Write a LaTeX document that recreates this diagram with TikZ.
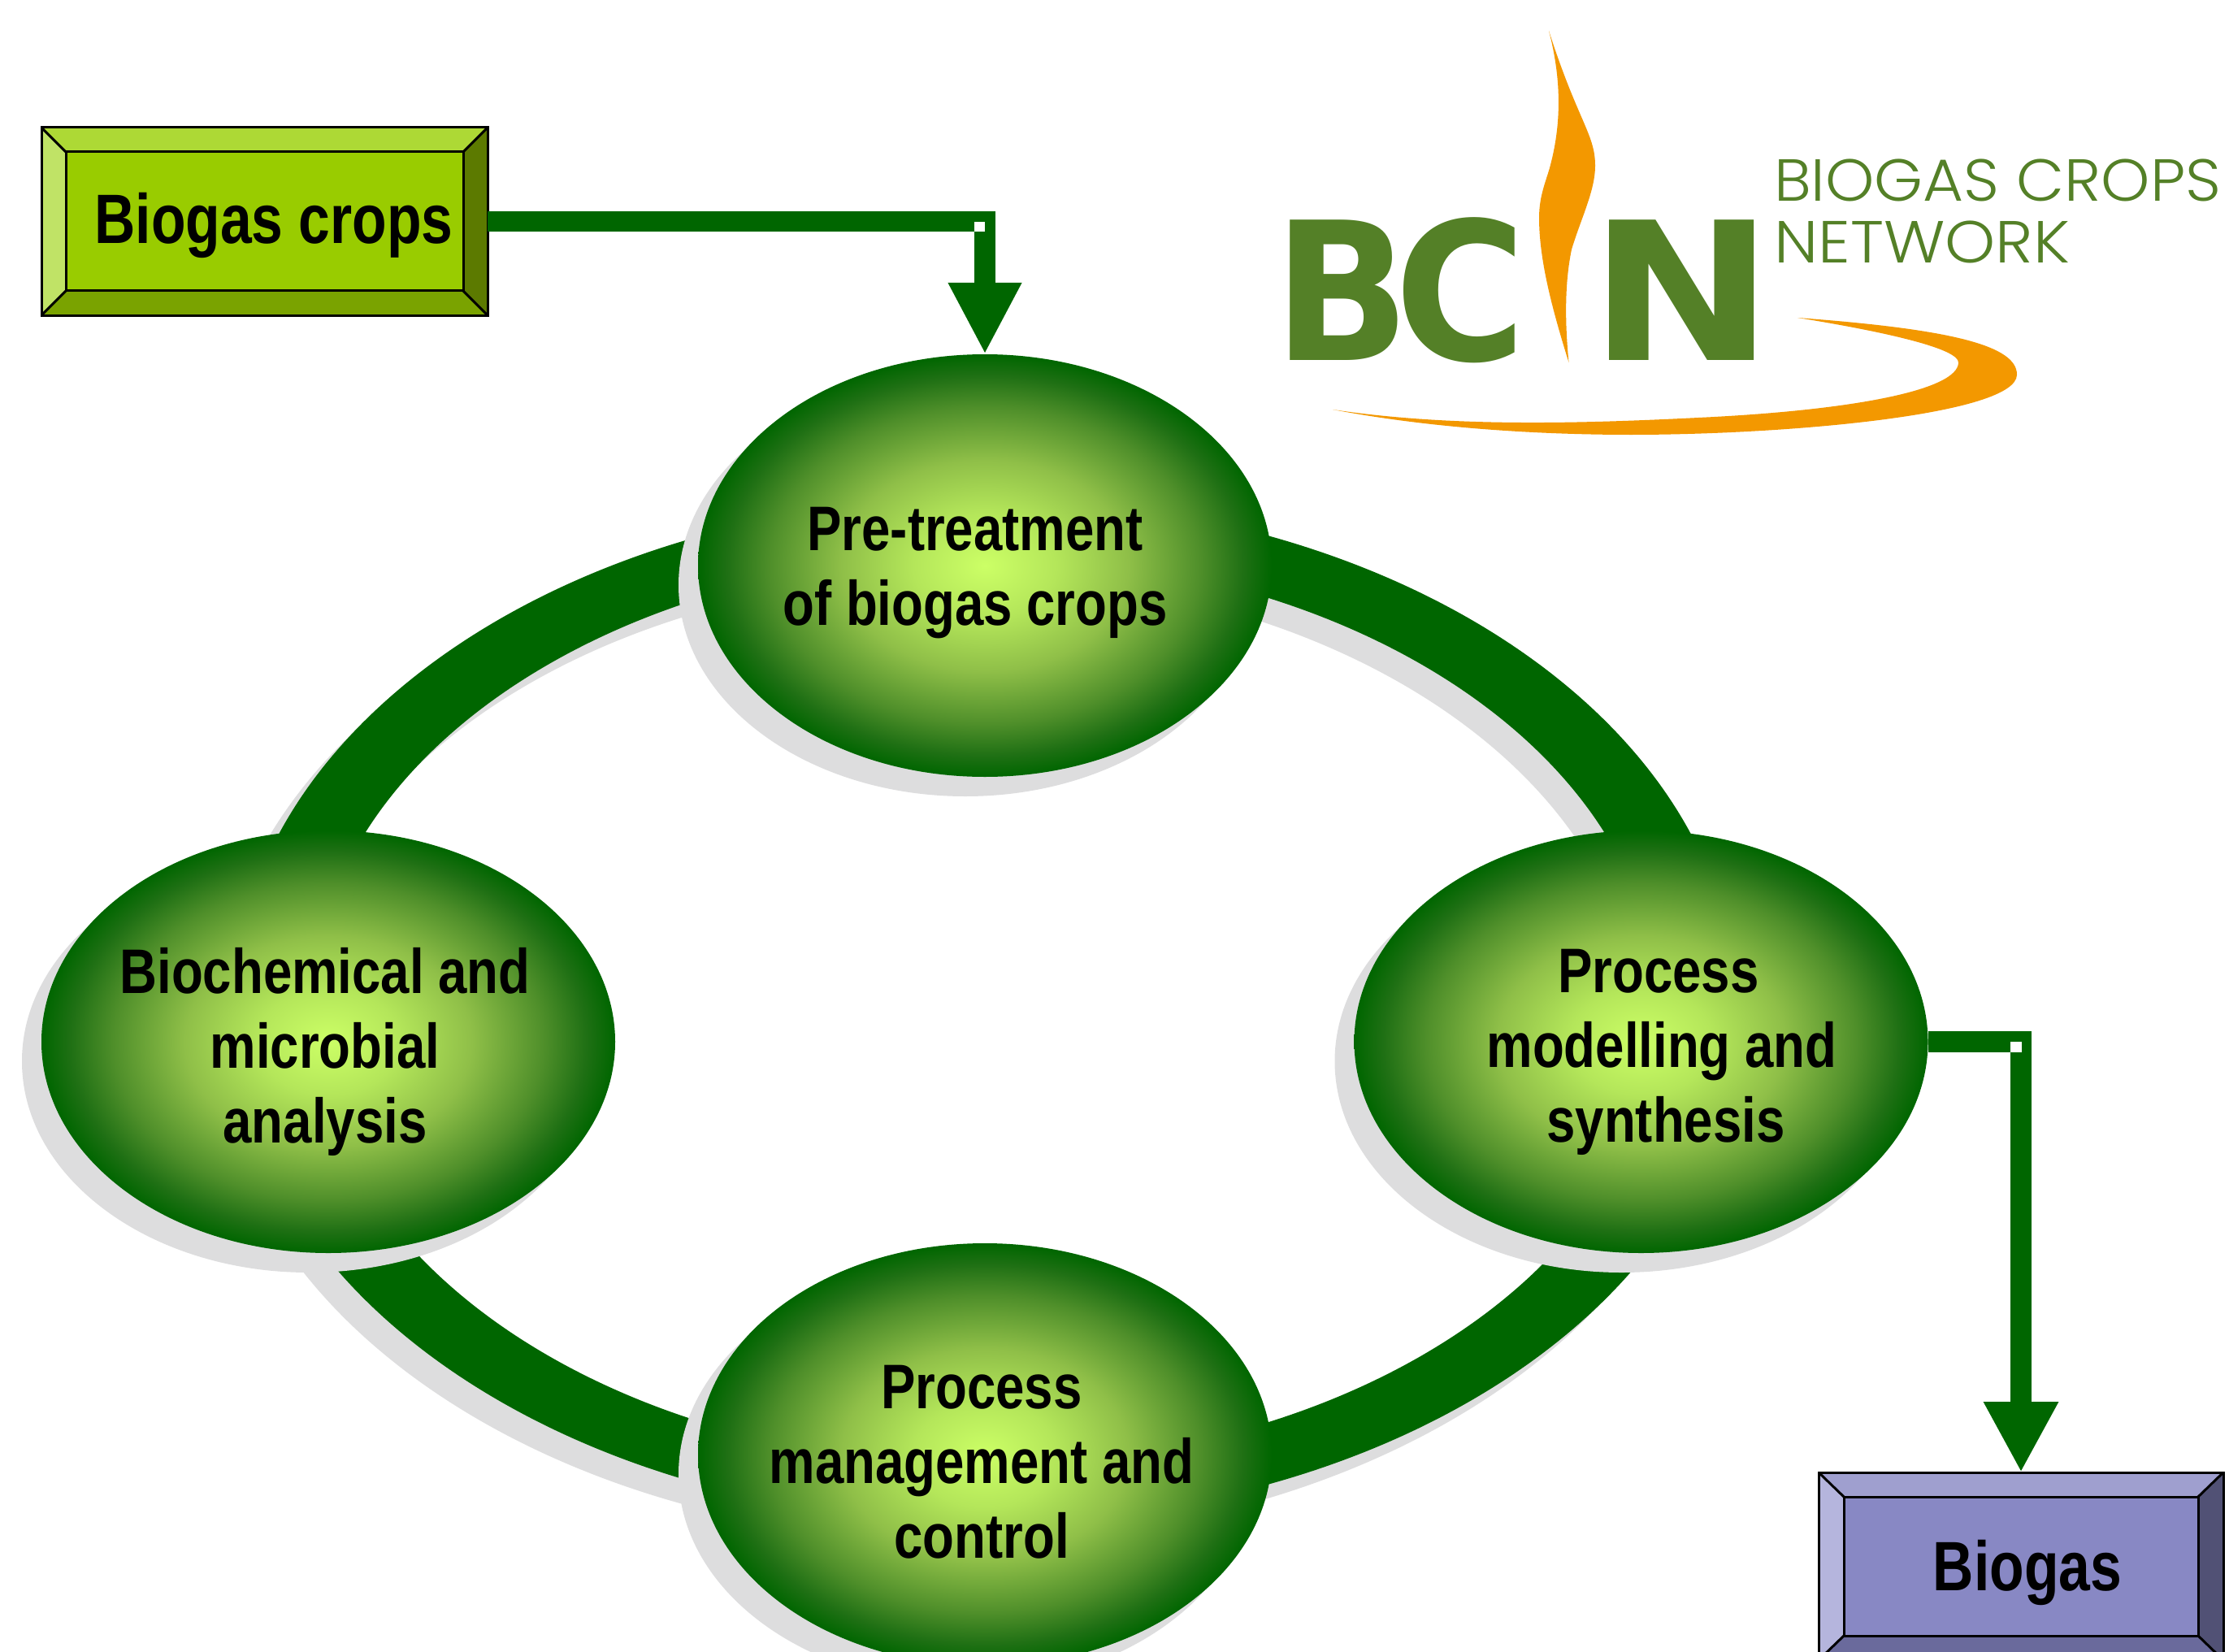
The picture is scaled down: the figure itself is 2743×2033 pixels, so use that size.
\documentclass[tikz,border=0pt]{standalone}
\usepackage{fontspec}
\usepackage{graphicx}
\usetikzlibrary{calc,arrows.meta,shapes.geometric}
\newfontfamily\narrowfont[FakeStretch=0.82]{Liberation Sans}
\newfontfamily\boxfont[FakeStretch=0.81]{Liberation Sans}
\newfontfamily\logobold{DejaVu Sans}
\newfontfamily\logotext[FakeStretch=1.05]{Poppins Light}
\definecolor{eggin}{HTML}{CCFF66}
\definecolor{egga}{HTML}{B4E65A}
\definecolor{eggb}{HTML}{8FBF48}
\definecolor{eggc}{HTML}{4F8F2A}
\definecolor{eggd}{HTML}{1F7014}
\definecolor{eggout}{HTML}{006600}
\definecolor{flowgreen}{HTML}{006600}
\definecolor{shadowgray}{HTML}{DDDDDE}
\definecolor{logogreen}{HTML}{548027}
\definecolor{logoorange}{HTML}{F39800}
\definecolor{cropC}{HTML}{99CC00}
\definecolor{cropT}{HTML}{ADD935}
\definecolor{cropL}{HTML}{C0E366}
\definecolor{cropR}{HTML}{5C7A00}
\definecolor{cropB}{HTML}{7AA300}
\definecolor{gasC}{HTML}{8888C4}
\definecolor{gasT}{HTML}{9F9FCF}
\definecolor{gasL}{HTML}{B5B5DD}
\definecolor{gasR}{HTML}{515175}
\definecolor{gasB}{HTML}{6A6A9C}
\pgfdeclareradialshading{eggshade}{\pgfpoint{0bp}{0bp}}{color(0bp)=(eggin); color(6.25bp)=(egga); color(12.5bp)=(eggb); color(18.75bp)=(eggc); color(22.5bp)=(eggd); color(25bp)=(eggout); color(50bp)=(eggout)}
\tikzset{
  eggnode/.style={ellipse,minimum width=706pt,minimum height=520pt,inner sep=0pt,outer sep=0pt,shade,shading=eggshade},
  eggtext/.style={align=center,inner sep=0pt,font=\narrowfont\bfseries\fontsize{77.5}{92}\selectfont},
  boxtext/.style={inner sep=0pt,anchor=base,font=\boxfont\bfseries\fontsize{86}{100}\selectfont},
  bevelbox/.style={rectangle,inner sep=0pt,outer sep=0pt,draw=black,line width=3pt},
  flow/.style={draw=flowgreen,line width=25.5pt,line join=miter},
  notch/.style={fill=white},
  logoletter/.style={inner sep=0pt,outer sep=0pt,anchor=base west,text=logogreen,font=\logobold\bfseries\fontsize{237}{237}\selectfont},
  logoline/.style={inner sep=0pt,anchor=base west,text=logogreen,font=\logotext\fontsize{73}{73}\selectfont}
}
\newcommand{\bevelfaces}[6]{%
  \fill[#3] (#1.north west) -- (#1.north east) -- (#2.north east) -- (#2.north west) -- cycle;
  \fill[#4] (#1.north west) -- (#1.south west) -- (#2.south west) -- (#2.north west) -- cycle;
  \fill[#5] (#1.north east) -- (#1.south east) -- (#2.south east) -- (#2.north east) -- cycle;
  \fill[#6] (#1.south west) -- (#1.south east) -- (#2.south east) -- (#2.south west) -- cycle;
  \draw[black,line width=3pt] (#1.north west) -- (#2.north west) (#1.north east) -- (#2.north east) (#1.south west) -- (#2.south west) (#1.south east) -- (#2.south east);
  \draw[bevelbox] (#1.north west) rectangle (#1.south east);
}
\begin{document}
\begin{tikzpicture}[x=1pt,y=-1pt]
\useasboundingbox (0,0) rectangle (2743,2033);
\clip (0,0) rectangle (2743,2033);
\fill[white] (0,0) rectangle (2743,2033);

\coordinate (topc) at (1212,696);
\coordinate (leftc) at (404,1282);
\coordinate (rightc) at (2019.5,1282);
\coordinate (botc) at (1212,1790);
\coordinate (ringc) at ($(topc)!0.5!(botc)$);

% ring
\fill[shadowgray,even odd rule] ([shift={(-24,24)}]ringc) ellipse [x radius=925,y radius=630]
   ([shift={(-24,24)}]ringc) ellipse [x radius=828,y radius=559];
\fill[flowgreen,even odd rule] (ringc) ellipse [x radius=925,y radius=630]
   (ringc) ellipse [x radius=828,y radius=559];

% ellipses
\foreach \c in {topc,leftc,rightc,botc}
  \fill[shadowgray] ([shift={(-24,24)}]\c) ellipse [x radius=353,y radius=260];
\node[eggnode] (top) at (topc) {};
\node[eggnode] (left) at (leftc) {};
\node[eggnode] (right) at (rightc) {};
\node[eggnode] (bottom) at (botc) {};

\node[eggtext] (toptext) at (1200,705) {Pre-treatment\\of biogas crops};
\node[eggtext] (lefttext) at (400,1294) {Biochemical and\\microbial\\analysis};
\node[eggtext] (righttext) at (2045,1295) {\kern-8pt Process\\modelling and\\\kern10pt synthesis};
\node[eggtext] (bottext) at (1208,1799) {Process\\management and\\control};

% boxes
\node[rectangle,minimum width=549pt,minimum height=231pt,inner sep=0pt,outer sep=0pt] (cropsout) at (325.5,272.5) {};
\node[rectangle,minimum width=489pt,minimum height=171pt,inner sep=0pt,outer sep=0pt,fill=cropC] (crops) at (325.5,272.5) {};
\bevelfaces{cropsout}{crops}{cropT}{cropL}{cropR}{cropB}
\draw[bevelbox] (crops.north west) rectangle (crops.south east);
\node[boxtext] (cropslabel) at (337,300) {Biogas crops};

\node[rectangle,minimum width=498pt,minimum height=231pt,inner sep=0pt,outer sep=0pt] (gasout) at (2487,1927.5) {};
\node[rectangle,minimum width=436pt,minimum height=171pt,inner sep=0pt,outer sep=0pt,fill=gasC] (gas) at (2487,1927.5) {};
\bevelfaces{gasout}{gas}{gasT}{gasL}{gasR}{gasB}
\draw[bevelbox] (gas.north west) rectangle (gas.south east);
\node[boxtext] (gaslabel) at (2495,1957) {Biogas};

% connectors
\draw[flow,-{Triangle[width=84pt,length=88pt]}] (cropsout.east) -| (top.north);
\fill[notch] (1199,273) rectangle (1212,285);
\draw[flow,-{Triangle[width=86pt,length=87pt]}] (right.east) -| (gasout.north);
\fill[notch] (2474,1282) rectangle (2487.5,1295);

% logo
\node[logoletter] (logoB) at (1567,443) {\scalebox{.93}[1]{B}};
\node[logoletter] (logoC) at (1716.5,443) {\scalebox{.93}[1]{C}};
\node[logoletter] (logoN) at (1955,443) {\scalebox{1.15}[1]{N}};
\fill[logoorange] (1906,38) .. controls (1942,150) and (1963,165) .. (1963,204)
   .. controls (1963,235) and (1945,270) .. (1934,307)
   .. controls (1925,350) and (1926,400) .. (1930.5,446)
   .. controls (1910,380) and (1894,320) .. (1894,268)
   .. controls (1894,240) and (1903,222) .. (1907.7,204)
   .. controls (1918,165) and (1925,110) .. (1906,38) -- cycle;
\fill[logoorange] (1640,504) .. controls (1750,525) and (1880,535) .. (2007,535)
   .. controls (2200,535) and (2482,510) .. (2482,461)
   .. controls (2482,425) and (2400,405) .. (2212,391)
   .. controls (2330,410) and (2410,430) .. (2410,446)
   .. controls (2410,480) and (2280,505) .. (2090,514)
   .. controls (1930,522) and (1780,525) .. (1640,504) -- cycle;
\node[logoline] (logo1) at (2183,248) {BIOGAS CROPS};
\node[logoline] (logo2) at (2183,324) {\scalebox{1.03}[1]{NETWORK}};
\end{tikzpicture}
\end{document}
